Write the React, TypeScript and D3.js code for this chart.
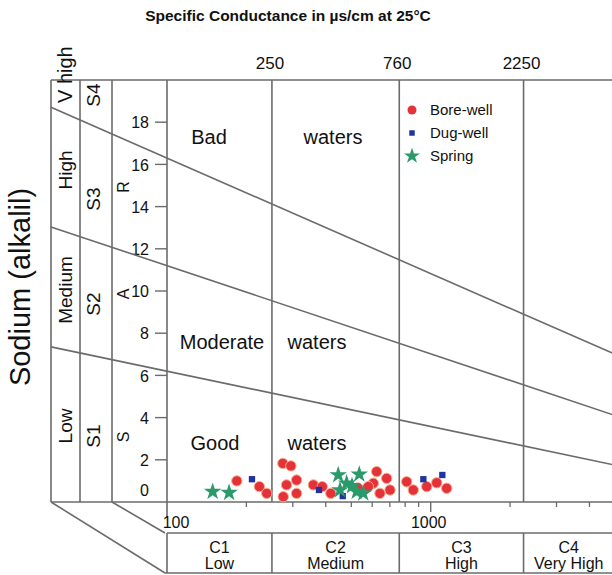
import React, { useRef, useEffect } from 'react';
import * as d3 from 'd3';

// sample points: [conductance µS/cm, SAR]
const boreWell = [
  [184, 1.0], [224, 0.73], [239, 0.41], [275, 1.83], [295, 1.71], [284, 0.81],
  [310, 1.04], [276, 0.25], [310, 0.41], [359, 0.81], [388, 0.73], [418, 0.41],
  [624, 1.44], [606, 0.89], [681, 1.12], [701, 0.57], [642, 0.41], [580, 0.73],
  [530, 0.66], [811, 0.96], [859, 0.57], [966, 0.73], [1054, 0.91], [1150, 0.65],
];
const dugWell = [[210, 1.08], [377, 0.57], [464, 0.28], [938, 1.08], [1107, 1.28]];
const spring = [
  [149, 0.49], [172, 0.44], [446, 1.28], [536, 1.31], [480, 0.89],
  [524, 0.49], [555, 0.41], [453, 0.57], [503, 0.76],
];

const classBounds = [250, 760, 2250];
const minorTicks = [200, 300, 400, 500, 600, 700, 800, 900, 2000, 3000, 4000];
const sarTicks = [0, 2, 4, 6, 8, 10, 12, 14, 16, 18];
// sodium hazard boundaries, SAR at 100 and at 5000 µS/cm
const sarLineStart = [16.3, 11.2, 6.2];
const sarLineEnd = [7.0, 4.1, 1.75];

const salinityClass = ['C1', 'C2', 'C3', 'C4'];
const salinityName = ['Low', 'Medium', 'High', 'Very High'];

const FONT = '"Liberation Sans", Arial, Helvetica, sans-serif';
const GREY = '#6b6b6b';

const App = () => {
  const ref = useRef<SVGSVGElement>(null);

  useEffect(() => {
    const svg = d3.select(ref.current);
    svg.selectAll('*').remove();

    const W = 612;
    const xScale = d3.scaleLog().domain([100, 5000]).range([167, 615]);
    const yScale = d3.scaleLinear().domain([0, 20]).range([502, 80]);
    const top = yScale(20), bottom = yScale(0);
    const frameL = 51, col1 = 80, col2 = 112, plotL = xScale(100);
    const boxTop = 533, boxBot = 573;

    const g = svg.append('g').attr('font-family', FONT).attr('fill', '#111');

    const line = (x1, y1, x2, y2, w = 1.6) =>
      g.append('line').attr('x1', x1).attr('y1', y1).attr('x2', x2).attr('y2', y2)
        .attr('stroke', GREY).attr('stroke-width', w);

    // title
    g.append('text').attr('x', 288).attr('y', 21).attr('text-anchor', 'middle')
      .attr('font-size', 15.5).attr('font-weight', 'bold')
      .text('Specific Conductance in \u00b5s/cm at 25\u00b0C');

    // frame
    line(frameL, top, W, top);
    line(frameL, bottom, W, bottom);
    [frameL, col1, col2].forEach((x) => line(x, top, x, bottom));
    line(plotL, top, plotL, bottom + 16);
    classBounds.forEach((v) => {
      line(xScale(v), top, xScale(v), bottom);
      g.append('text').attr('x', xScale(v) - 2).attr('y', 69).attr('text-anchor', 'middle')
        .attr('font-size', 17).text(v);
    });

    // perspective + class box at the bottom
    line(frameL, bottom, plotL - 2, boxBot);
    line(col2, bottom, plotL - 2, boxTop);
    line(plotL, boxTop, W, boxTop);
    line(plotL - 2, boxBot, W, boxBot);
    const boxEdges = [100, ...classBounds];
    boxEdges.forEach((v) => line(xScale(v), boxTop, xScale(v), boxBot));
    salinityClass.forEach((c, i) => {
      const x0 = xScale(boxEdges[i]);
      const x1 = i < 3 ? xScale(boxEdges[i + 1]) : W + 6;
      const cx = (x0 + x1) / 2 + (i === 3 ? -2 : 0);
      g.append('text').attr('x', cx).attr('y', 553).attr('text-anchor', 'middle')
        .attr('font-size', 16).text(c);
      g.append('text').attr('x', cx).attr('y', 569).attr('text-anchor', 'middle')
        .attr('font-size', 16).text(salinityName[i]);
    });

    // conductance ticks
    minorTicks.forEach((v) => line(xScale(v), bottom, xScale(v), bottom + 5, 1.3));
    line(xScale(1000), bottom, xScale(1000), bottom + 10, 1.4);
    g.append('text').attr('x', plotL + 9).attr('y', 528).attr('text-anchor', 'middle')
      .attr('font-size', 16).text('100');
    g.append('text').attr('x', xScale(1000) - 2).attr('y', 528).attr('text-anchor', 'middle')
      .attr('font-size', 16).text('1000');

    // SAR axis
    sarTicks.forEach((v) => {
      const y = yScale(v);
      if (v > 0) line(plotL - 12, y, plotL, y, 1.4);
      g.append('text').attr('x', 149).attr('y', v === 0 ? y - 10 : y + 2)
        .attr('text-anchor', 'end').attr('dominant-baseline', 'middle')
        .attr('font-size', 16).text(v);
    });

    // sodium hazard lines
    const l0 = Math.log10(100), l1 = Math.log10(5000);
    const ecLeft = xScale.invert(frameL);
    sarLineStart.forEach((a, i) => {
      const b = sarLineEnd[i];
      const sar = (ec) => a + (b - a) * (Math.log10(ec) - l0) / (l1 - l0);
      line(xScale(ecLeft), yScale(sar(ecLeft)), xScale(5000), yScale(sar(5000)), 1.6);
    });

    // rotated labels in the left columns
    const rot = (x, y, txt, size, anchor = 'middle') =>
      g.append('text').attr('transform', `translate(${x},${y}) rotate(-90)`)
        .attr('text-anchor', anchor).attr('dominant-baseline', 'central')
        .attr('font-size', size).text(txt);
    rot(20, 287, 'Sodium (alkalil)', 29);
    rot(65, 103, 'V high', 20, 'start');
    rot(65, 170, 'High', 19);
    rot(65, 290, 'Medium', 19);
    rot(65, 426, 'Low', 19);
    rot(93, 95, 'S4', 19);
    rot(93, 199, 'S3', 19);
    rot(93, 304, 'S2', 19);
    rot(93, 436, 'S1', 19);
    rot(123, 187, 'R', 16);
    rot(123, 294, 'A', 16);
    rot(123, 437, 'S', 16);

    // region labels
    const regions = [
      ['Bad', 209, 144], ['waters', 333, 144],
      ['Moderate', 222, 349], ['waters', 317, 349],
      ['Good', 215, 450], ['waters', 317, 450],
    ];
    regions.forEach(([t, x, y]) =>
      g.append('text').attr('x', x).attr('y', y).attr('text-anchor', 'middle')
        .attr('font-size', 20).text(t));

    // points
    const star = d3.symbol().type(d3.symbolStar).size(95);
    const square = d3.symbol().type(d3.symbolSquare).size(40);
    g.selectAll('.bore').data(boreWell).join('circle').attr('class', 'bore')
      .attr('cx', (d) => xScale(d[0])).attr('cy', (d) => yScale(d[1])).attr('r', 5.2)
      .attr('fill', '#e5323a').attr('stroke', '#f6b08a').attr('stroke-width', 1);
    g.selectAll('.dug').data(dugWell).join('path').attr('class', 'dug')
      .attr('d', square).attr('transform', (d) => `translate(${xScale(d[0])},${yScale(d[1])})`)
      .attr('fill', '#2233a0');
    g.selectAll('.spring').data(spring).join('path').attr('class', 'spring')
      .attr('d', star).attr('transform', (d) => `translate(${xScale(d[0])},${yScale(d[1])})`)
      .attr('fill', '#2a9a6b');

    // legend
    const lg = g.append('g').attr('transform', 'translate(412,110)');
    lg.append('circle').attr('cx', 0).attr('cy', 0).attr('r', 4.5).attr('fill', '#e5323a');
    lg.append('path').attr('d', d3.symbol().type(d3.symbolSquare).size(30)())
      .attr('transform', 'translate(0,23)').attr('fill', '#2233a0');
    lg.append('path').attr('d', d3.symbol().type(d3.symbolStar).size(80)())
      .attr('transform', 'translate(0,46)').attr('fill', '#2a9a6b');
    ['Bore-well', 'Dug-well', 'Spring'].forEach((t, i) =>
      lg.append('text').attr('x', 18).attr('y', i * 23 + 5).attr('font-size', 15).text(t));
  }, []);

  return (
    <svg ref={ref} width={612} height={575}
      style={{ position: 'absolute', left: 0, top: 0, background: '#fff' }} />
  );
};

export default App;
